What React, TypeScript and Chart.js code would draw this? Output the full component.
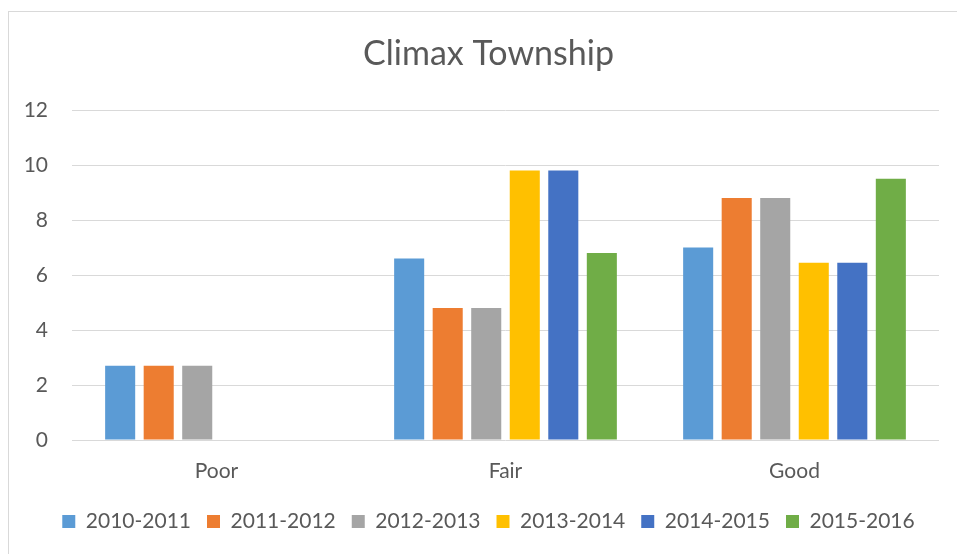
import React, { useEffect, useRef } from "react";
import { Chart, registerables } from "chart.js";

Chart.register(...registerables);

const title = "Climax Township";
const categories = ["Poor", "Fair", "Good"];
const seriesNames = ["2010-2011", "2011-2012", "2012-2013", "2013-2014", "2014-2015", "2015-2016"];
const seriesColors = ["#5B9BD5", "#ED7D31", "#A5A5A5", "#FFC000", "#4472C4", "#70AD47"];
const values2010 = [2.7, 6.6, 7.0];
const values2011 = [2.7, 4.8, 8.8];
const values2012 = [2.7, 4.8, 8.8];
const values2013 = [0, 9.8, 6.45];
const values2014 = [0, 9.8, 6.45];
const values2015 = [0, 6.8, 9.5];
const yMin = 0;
const yMax = 12;
const yStep = 2;

const FONT = "Lato, 'Open Sans', sans-serif";
const TEXT = "#595959";

export default function App() {
  const canvasRef = useRef<HTMLCanvasElement | null>(null);

  useEffect(() => {
    if (!canvasRef.current) return;
    const allValues = [values2010, values2011, values2012, values2013, values2014, values2015];
    const chart = new Chart(canvasRef.current, {
      type: "bar",
      data: {
        labels: categories,
        datasets: seriesNames.map((name, i) => ({
          label: name,
          data: allValues[i],
          backgroundColor: seriesColors[i],
          borderWidth: 0,
          categoryPercentage: 0.8,
          barPercentage: 0.78,
        })),
      },
      options: {
        animation: false,
        responsive: false,
        maintainAspectRatio: false,
        layout: { padding: { left: 0, right: 0, top: 0, bottom: 30 } },
        plugins: {
          title: {
            display: true,
            text: title,
            color: TEXT,
            font: { family: FONT, size: 34, weight: "normal" },
            padding: { top: 21.6, bottom: 35.6 },
          },
          legend: {
            position: "bottom",
            labels: {
              color: TEXT,
              font: { family: FONT, size: 21 },
              boxWidth: 13,
              boxHeight: 13,
              padding: 16,
            },
          },
          tooltip: { enabled: false },
        },
        scales: {
          x: {
            grid: { display: false, drawTicks: false },
            border: { display: false },
            ticks: { color: TEXT, font: { family: FONT, size: 21 }, padding: 19 },
            afterFit: (s: any) => {
              s.height = 55;
            },
          },
          y: {
            min: yMin,
            max: yMax,
            ticks: { stepSize: yStep, color: TEXT, font: { family: FONT, size: 21 }, padding: 24 },
            grid: { color: "#D9D9D9", lineWidth: 1, drawTicks: false },
            border: { display: false },
            afterFit: (s: any) => {
              s.width = 63;
            },
          },
          yRight: {
            position: "right",
            display: true,
            min: yMin,
            max: yMax,
            grid: { display: false, drawTicks: false },
            border: { display: false },
            ticks: { display: false },
            afterFit: (s: any) => {
              s.width = 29;
            },
          },
        },
      },
    });
    return () => chart.destroy();
  }, []);

  return (
    <div style={{ position: "fixed", left: 0, top: 0, width: 957, height: 554, overflow: "hidden", background: "#fff" }}>
      <div
        style={{
          position: "absolute",
          left: 8,
          top: 11,
          width: 959,
          height: 560,
          border: "1px solid #D9D9D9",
        }}
      >
        <canvas ref={canvasRef} width={959} height={560} style={{ display: "block", width: 959, height: 560 }} />
      </div>
    </div>
  );
}
